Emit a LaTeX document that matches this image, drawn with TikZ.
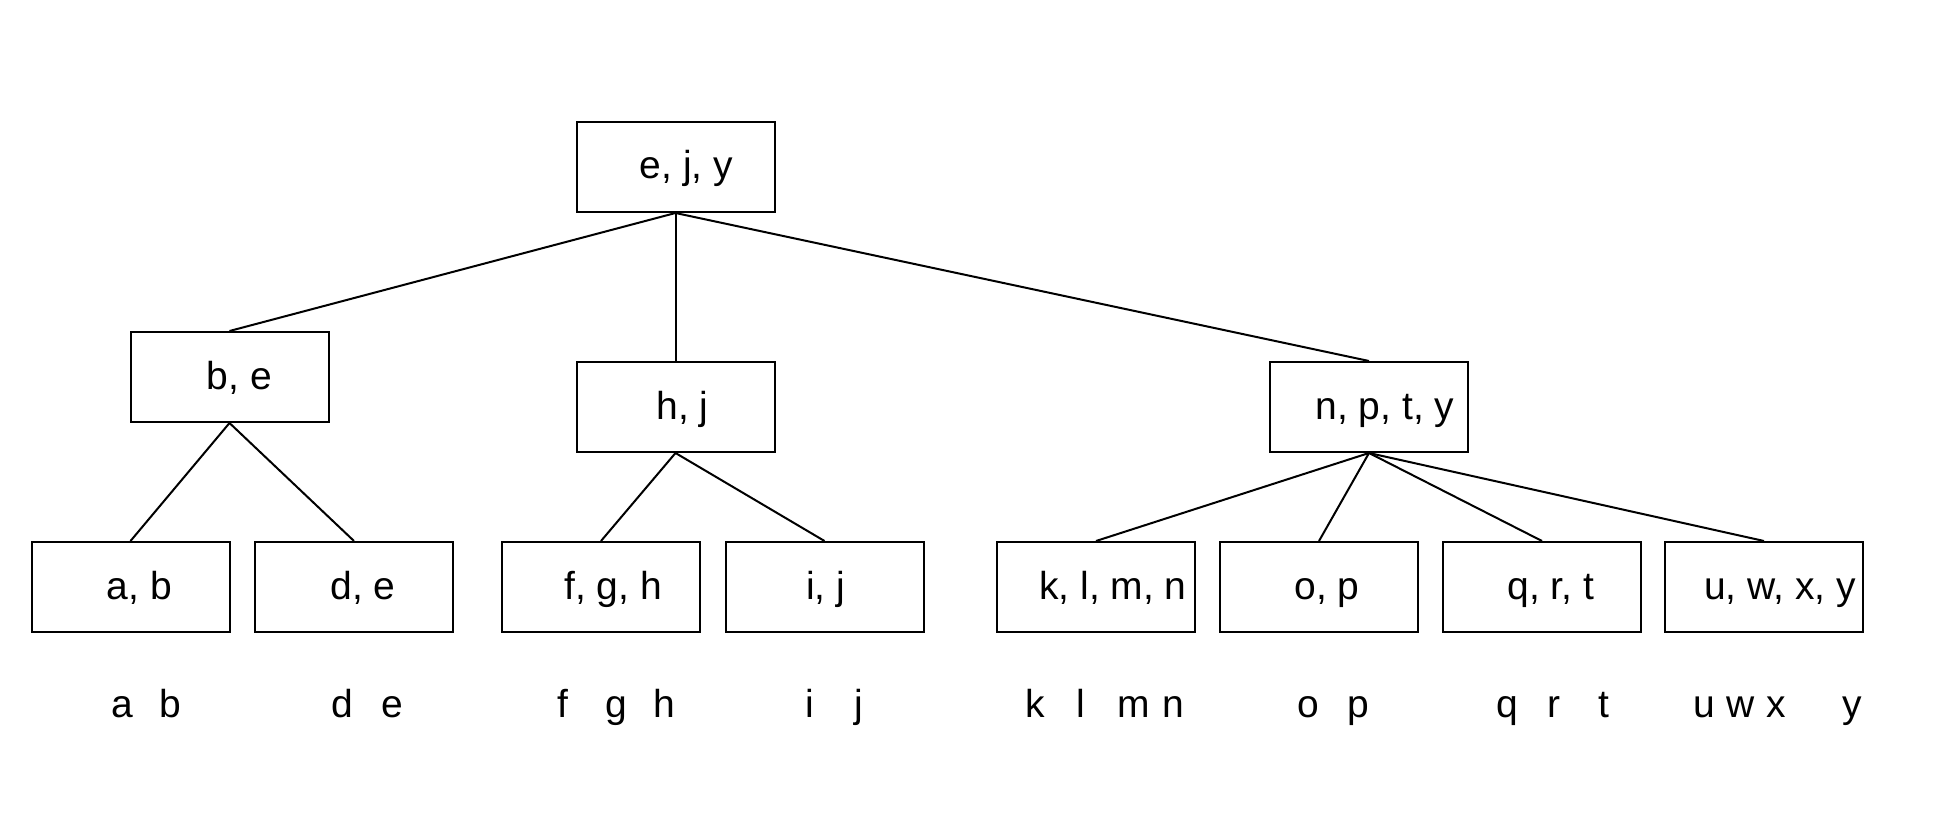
\documentclass[tikz,border=0pt]{standalone}
\usepackage{fontspec}
\setmainfont{Liberation Sans}
\begin{document}
\begin{tikzpicture}[x=0.5pt,y=-0.5pt,
    font=\fontsize{19.5pt}{23pt}\selectfont,
    keybox/.style={draw,line width=1pt,minimum width=99pt,minimum height=45pt,
        inner sep=0pt,text height=14pt,text depth=2pt,
        execute at begin node=\hspace*{#1pt}},
    edge/.style={line width=1pt}]
    \useasboundingbox (0,0) rectangle (1958,834);
    %% inner nodes
    \node[keybox=11] (ejy) at (675.5,167) {e, j, y};
    \node[keybox=10] (be) at (229.5,377) {b, e};
    \node[keybox=7] (hj) at (675.5,407) {h, j};
    \node[keybox=16] (npty) at (1369,407) {n, p, t, y};
    %% leaf nodes
    \node[keybox=9] (ab) at (130.5,587) {a, b};
    \node[keybox=9] (de) at (354,587) {d, e};
    \node[keybox=12] (fgh) at (601,587) {f, g, h};
    \node[keybox=1] (ij) at (824.5,587) {i, j};
    \node[keybox=17] (klmn) at (1096,587) {k, l, m, n};
    \node[keybox=8] (op) at (1319,587) {o, p};
    \node[keybox=9] (qrt) at (1542,587) {q, r, t};
    \node[keybox=16] (uwxy) at (1764,587) {u, w, x, y};
    %% tree edges
    \foreach \c in {be,hj,npty} \draw[edge] (ejy.south) -- (\c.north);
    \foreach \c in {ab,de} \draw[edge] (be.south) -- (\c.north);
    \foreach \c in {fgh,ij} \draw[edge] (hj.south) -- (\c.north);
    \foreach \c in {klmn,op,qrt,uwxy} \draw[edge] (npty.south) -- (\c.north);
    %% keys below the leaves
    \foreach \x/\k in {122/a,170/b,342/d,392/e,563/f,616/g,664/h,810/i,859/j,
        1035/k,1081/l,1134/m,1173/n,1308/o,1358/p,1507/q,1554/r,1604/t,
        1704/u,1741/w,1776/x,1852/y}
        \node[anchor=base] (key-\k) at (\x,717) {\k};
\end{tikzpicture}
\end{document}
